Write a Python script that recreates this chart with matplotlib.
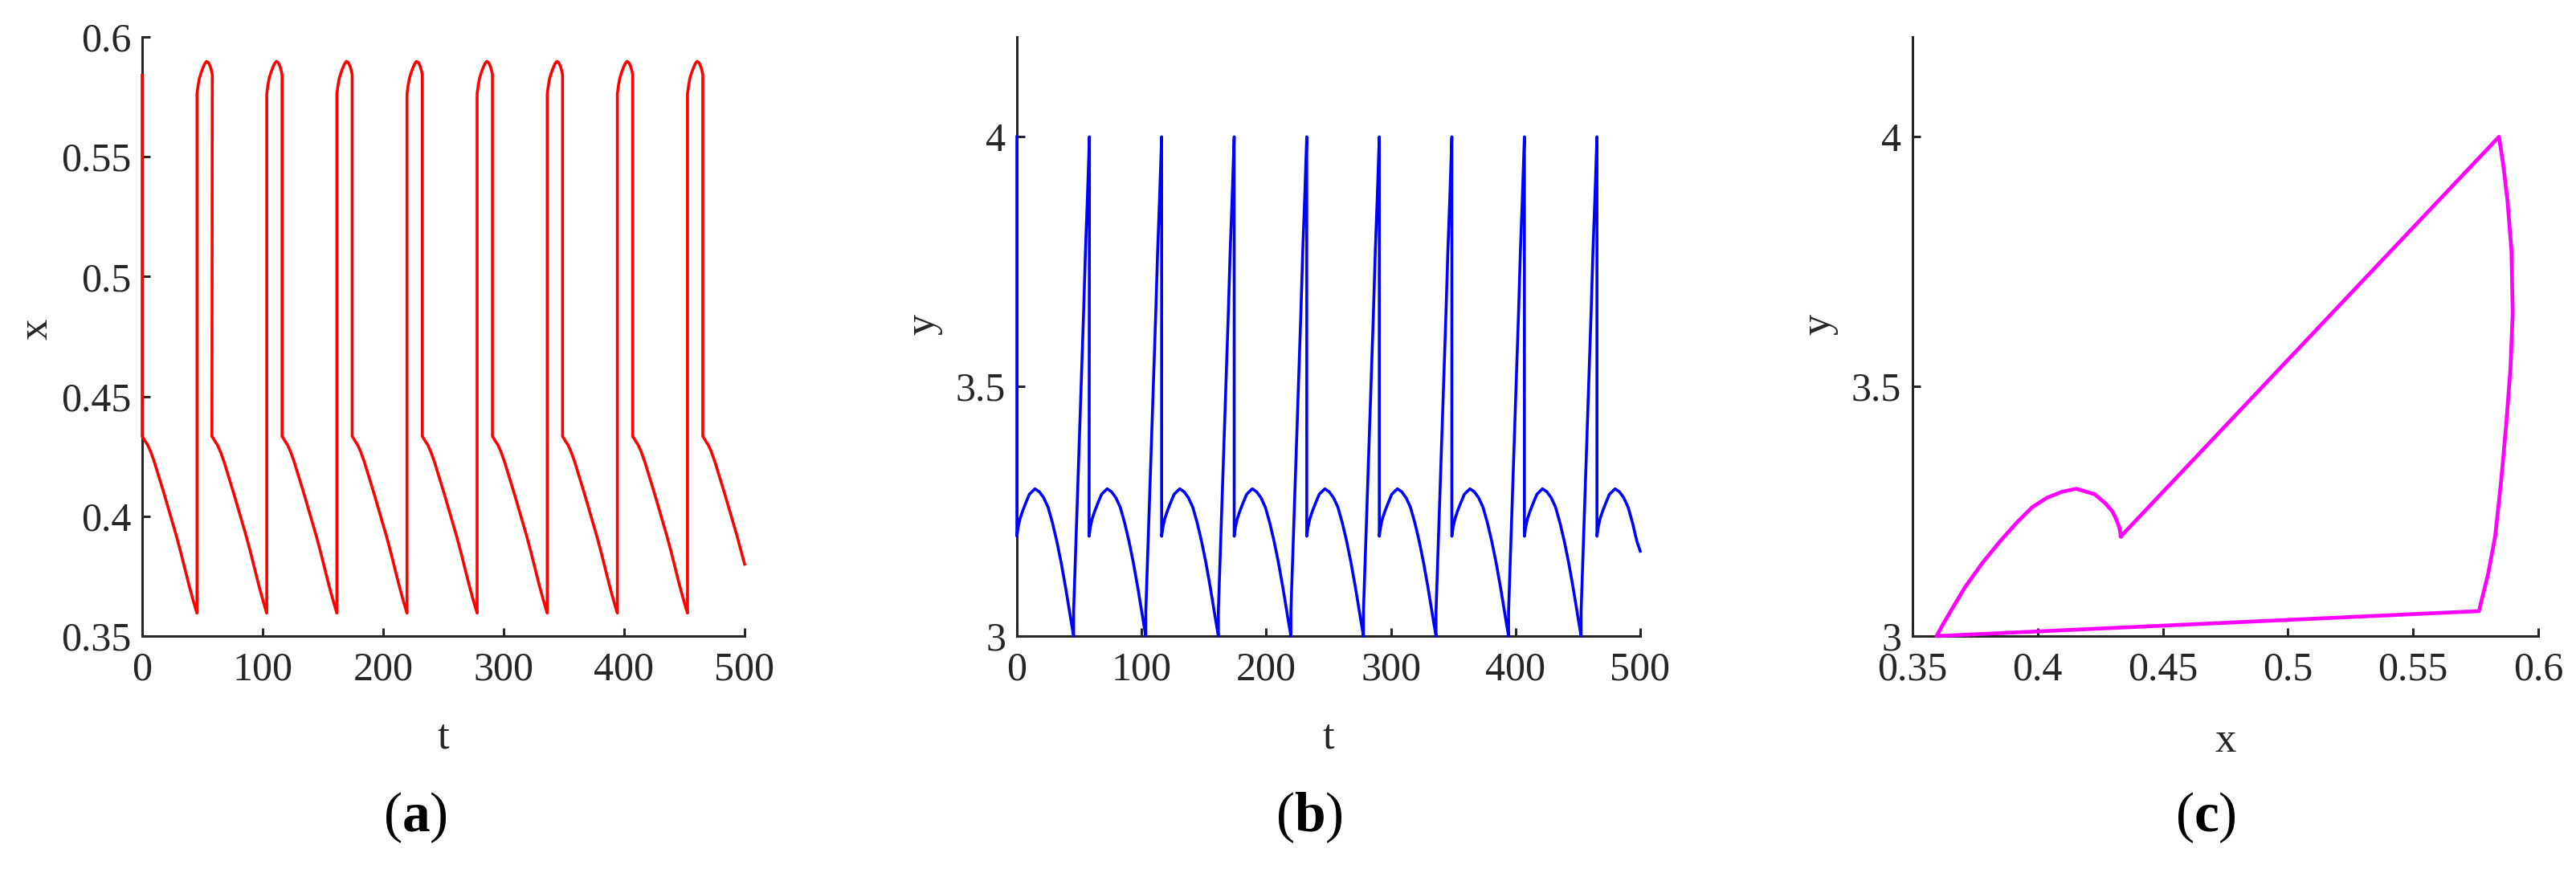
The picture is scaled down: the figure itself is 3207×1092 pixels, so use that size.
import matplotlib
matplotlib.use('Agg')
import matplotlib.pyplot as plt

# one orbit of the impulsive cycle
# decline: from the reset (x ~ 0.433, y ~ 3.2) down to x = 0.36
decline_tau = [0, 1, 2.5, 4.5, 7, 10, 14.5, 18, 21.5, 25, 28.5, 32, 35.5, 39, 42, 44, 45.5]
decline_x = [0.4333, 0.4326, 0.4313, 0.4298, 0.4270, 0.4228, 0.4155, 0.4097, 0.4037, 0.3978,
             0.3916, 0.3850, 0.3780, 0.3710, 0.3655, 0.3620, 0.3596]
decline_y = [3.200, 3.218, 3.235, 3.250, 3.266, 3.284, 3.295, 3.289, 3.277, 3.258,
             3.227, 3.190, 3.147, 3.098, 3.052, 3.022, 3.000]

# after the jump at x = 0.36: up to y = 4
rise_tau = [0, 1, 2, 3.5, 5, 6.5, 8, 9.5, 11, 12, 12.7]
rise_x = [0.5763, 0.5800, 0.5828, 0.5852, 0.5872, 0.5889, 0.5898, 0.5893, 0.5877, 0.5859, 0.5843]
rise_y = [3.050, 3.125, 3.200, 3.312, 3.424, 3.536, 3.648, 3.772, 3.873, 3.948, 4.000]

reset_times = [0, 57.9, 116.1, 174.3, 232.5, 290.7, 348.9, 407.1, 465.3]
x0, y0 = 0.584, 4.0
t_end, x_end, y_end = 500, 0.380, 3.170

t, x, y = [0.0], [x0], [y0]
for i, r in enumerate(reset_times):
    for tau, xv, yv in zip(decline_tau, decline_x, decline_y):
        if r + tau < t_end:
            t.append(r + tau)
            x.append(xv)
            y.append(yv)
    if i == len(reset_times) - 1:
        break
    j = r + decline_tau[-1]
    for tau, xv, yv in zip(rise_tau, rise_x, rise_y):
        t.append(j + tau)
        x.append(xv)
        y.append(yv)
t.append(t_end)
x.append(x_end)
y.append(y_end)

# phase portrait: one closed cycle
px = decline_x + rise_x + [decline_x[0]]
py = decline_y + rise_y + [decline_y[0]]

plt.rcParams['font.family'] = ['Liberation Serif', 'DejaVu Serif']
plt.rcParams['mathtext.fontset'] = 'custom'
plt.rcParams['mathtext.rm'] = 'Liberation Serif'
plt.rcParams['mathtext.bf'] = 'Liberation Serif:bold'

ink = '#262626'
W, H = 3207, 1092
fig = plt.figure(figsize=(W / 100, H / 100), dpi=100)


def make_ax(left_px, right_px):
    ax = fig.add_axes([left_px / W, 1 - 792 / H, (right_px - left_px) / W, 746 / H])
    for s in ['top', 'right']:
        ax.spines[s].set_visible(False)
    for s in ['left', 'bottom']:
        ax.spines[s].set_linewidth(2.2)
        ax.spines[s].set_color(ink)
    ax.tick_params(direction='in', length=7, width=2.2, colors=ink, labelsize=36)
    ax.tick_params(axis='x', pad=14)
    ax.tick_params(axis='y', pad=10)
    return ax


ax1 = make_ax(177, 927)
ax1.plot(t, x, color='#ff0000', lw=2.6, zorder=3, clip_on=False)
ax1.set_xlim(0, 500)
ax1.set_ylim(0.35, 0.6)
ax1.set_xticks([0, 100, 200, 300, 400, 500])
ax1.set_yticks([0.35, 0.4, 0.45, 0.5, 0.55, 0.6])
ax1.set_yticklabels(['0.35', '0.4', '0.45', '0.5', '0.55', '0.6'])
ax1.set_xlabel('t', fontsize=38, color=ink, va='center')
ax1.set_ylabel('x', fontsize=38, color=ink, va='center')
ax1.xaxis.set_label_coords(0.5, -0.170)
ax1.yaxis.set_label_coords(-0.175, 0.512)

ax2 = make_ax(1266, 2042)
ax2.plot(t, y, color='#0000ff', lw=2.6, zorder=3, clip_on=False)
ax2.set_xlim(0, 500)
ax2.set_ylim(3, 4.2)
ax2.set_xticks([0, 100, 200, 300, 400, 500])
ax2.set_yticks([3, 3.5, 4])
ax2.set_yticklabels(['3', '3.5', '4'])
ax2.set_xlabel('t', fontsize=38, color=ink, va='center')
ax2.set_ylabel('y', fontsize=38, color=ink, va='center')
ax2.xaxis.set_label_coords(0.5, -0.170)
ax2.yaxis.set_label_coords(-0.150, 0.520)

ax3 = make_ax(2381, 3160)
ax3.plot(px, py, color='#ff00ff', lw=3.4, zorder=3, clip_on=False)
ax3.set_xlim(0.35, 0.6)
ax3.set_ylim(3, 4.2)
ax3.set_xticks([0.35, 0.4, 0.45, 0.5, 0.55, 0.6])
ax3.set_xticklabels(['0.35', '0.4', '0.45', '0.5', '0.55', '0.6'])
ax3.set_yticks([3, 3.5, 4])
ax3.set_yticklabels(['3', '3.5', '4'])
ax3.set_xlabel('x', fontsize=38, color=ink, va='center')
ax3.set_ylabel('y', fontsize=38, color=ink, va='center')
ax3.xaxis.set_label_coords(0.5, -0.175)
ax3.yaxis.set_label_coords(-0.150, 0.520)

for lab, xp in [('a', 517), ('b', 1630), ('c', 2746)]:
    fig.text(xp / W, 1 - 1018 / H, '($\\mathbf{%s}$)' % lab, fontsize=50,
             ha='center', va='center', color='black')

fig.savefig('out.png', dpi=100)
